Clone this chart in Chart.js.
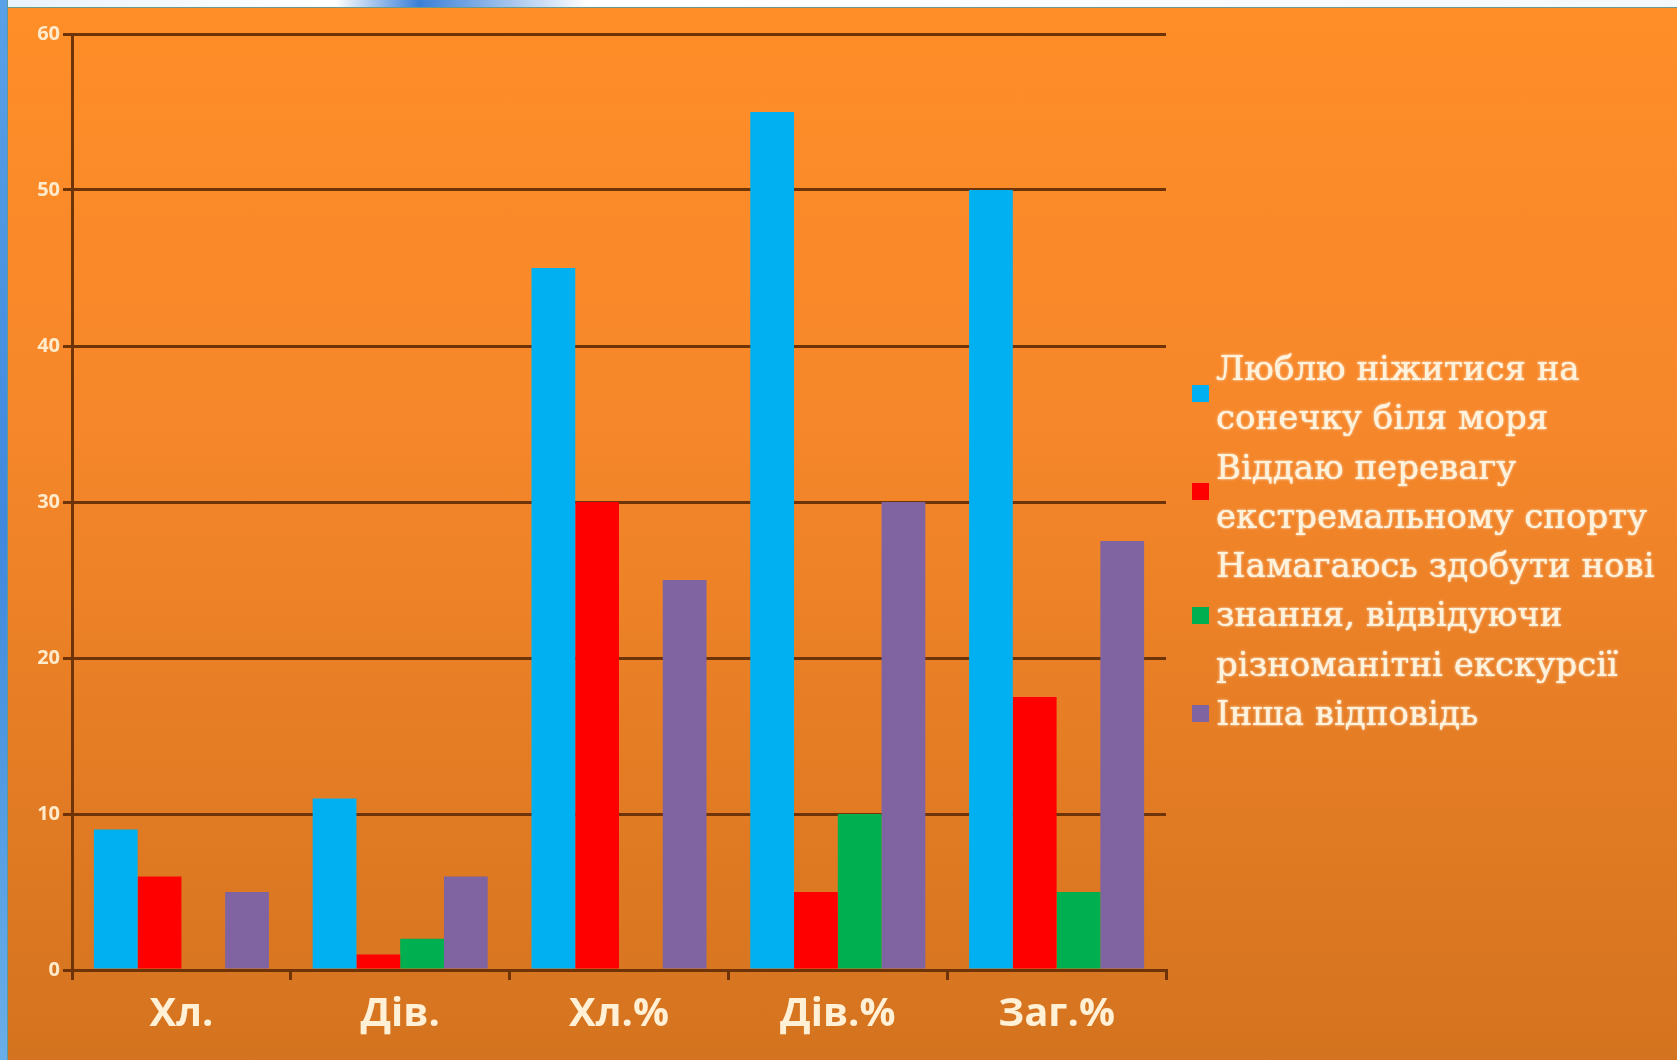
<!DOCTYPE html>
<html>
<head>
<meta charset="utf-8">
<script src="https://cdn.jsdelivr.net/npm/chart.js@4/dist/chart.umd.min.js"></script>
<style>
  html, body { margin: 0; padding: 0; }
  body {
    width: 1677px; height: 1060px; overflow: hidden; position: relative;
    background: linear-gradient(to bottom, #FF8E28 0%, #F6872A 40%, #D4731F 100%);
  }
  #topstrip { position: absolute; left: 0; top: 0; width: 1677px; height: 7px;
    background: linear-gradient(to right, #e8f2fb 0%, #ffffff 20%, #3a7fd8 25%, #ffffff 35%, #f4f8fc 100%);
    border-bottom: 1px solid #6a9a8a; }
  #leftstrip { position: absolute; left: 0; top: 0; width: 7px; height: 1060px;
    background: linear-gradient(to bottom, #5aa0e8, #3f88dc 50%, #6aaee8); border-right: 1px solid #5f9a9a; }
  #chart { position: absolute; left: 0; top: 0; }
  #legend { position: absolute; left: 1192px; top: 344px; font-family: "DejaVu Serif", "Liberation Serif", serif;
    font-size: 34px; line-height: 49.3px; color: #FFF2DA;
    text-shadow: 0 0 3px rgba(255,255,255,0.7), 0 0 1px #fff; }
  .item { display: flex; align-items: center; }
  .mark { width: 17px; height: 17px; margin-right: 7px; flex: none; }
  .txt { white-space: nowrap; }
</style>
</head>
<body>
<div id="topstrip"></div>
<div id="leftstrip"></div>
<canvas id="chart" width="1677" height="1060"></canvas>
<div id="legend"></div>
<script>
const categories = ['Хл.', 'Дів.', 'Хл.%', 'Дів.%', 'Заг.%'];
const seriesNames = [
  ['Люблю ніжитися на', 'сонечку біля моря'],
  ['Віддаю перевагу', 'екстремальному спорту'],
  ['Намагаюсь здобути нові', 'знання, відвідуючи', 'різноманітні екскурсії'],
  ['Інша відповідь']
];
const seriesColors = ['#00B0F0', '#FF0000', '#00B050', '#8064A2'];
const seriesSunbathe = [9, 11, 45, 55, 50];
const seriesExtreme = [6, 1, 30, 5, 17.5];
const seriesExcursions = [0, 2, 0, 10, 5];
const seriesOther = [5, 6, 25, 30, 27.5];
const yTicks = [0, 10, 20, 30, 40, 50, 60];

const seriesValues = [seriesSunbathe, seriesExtreme, seriesExcursions, seriesOther];
const gridColor = '#6E3306';

const chart = new Chart(document.getElementById('chart'), {
  type: 'bar',
  data: {
    labels: categories,
    datasets: seriesValues.map((v, i) => ({
      label: seriesNames[i].join(' '),
      data: v,
      backgroundColor: seriesColors[i],
      borderWidth: 0,
      categoryPercentage: 0.8,
      barPercentage: 1.0
    }))
  },
  options: {
    responsive: false,
    animation: false,
    layout: { padding: { left: 0, top: 34, right: 511, bottom: 0 } },
    plugins: { legend: { display: false }, tooltip: { enabled: false } },
    scales: {
      x: {
        afterFit: s => { s.height = 90; },
        grid: { display: true, offset: true, drawOnChartArea: false, drawTicks: true, tickLength: 10, color: gridColor, lineWidth: 3 },
        border: { display: true, color: gridColor, width: 3 },
        ticks: { color: '#FFF0D6', padding: 11, font: { family: '"Open Sans", "Noto Sans", sans-serif', size: 40, weight: '700' } }
      },
      y: {
        min: 0, max: 60,
        afterFit: s => { s.width = 72; },
        afterBuildTicks: s => { s.ticks = yTicks.map(v => ({ value: v })); },
        grid: { display: true, drawOnChartArea: true, drawTicks: true, tickLength: 9, color: gridColor, lineWidth: 3 },
        border: { display: true, color: gridColor, width: 3 },
        ticks: { color: '#FFEBCB', padding: 3, font: { family: '"Open Sans", "Noto Sans", sans-serif', size: 20, weight: '700' } }
      }
    }
  }
});

const leg = document.getElementById('legend');
seriesNames.forEach((lines, i) => {
  const it = document.createElement('div'); it.className = 'item';
  const m = document.createElement('div'); m.className = 'mark'; m.style.background = seriesColors[i];
  const t = document.createElement('div'); t.className = 'txt';
  lines.forEach(l => { const d = document.createElement('div'); d.textContent = l; t.appendChild(d); });
  it.appendChild(m); it.appendChild(t); leg.appendChild(it);
});
</script>
</body>
</html>
